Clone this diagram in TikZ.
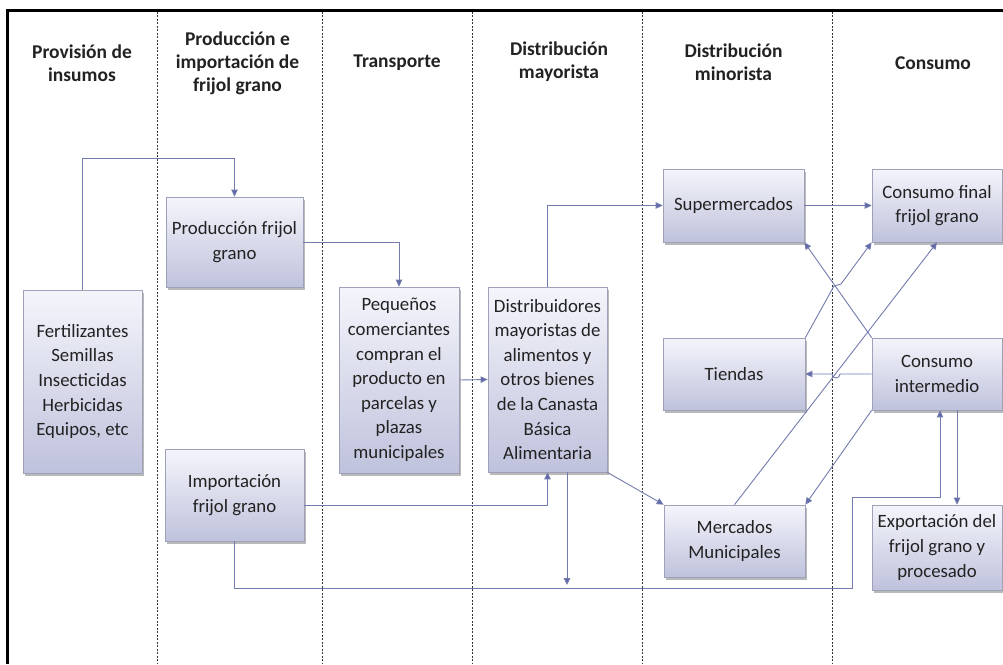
\documentclass[tikz,border=0pt]{standalone}
\usepackage{fontspec}
\setmainfont{Carlito}
\usetikzlibrary{arrows.meta,shadows,calc}
\definecolor{boxtop}{HTML}{F4F5FB}
\definecolor{boxbot}{HTML}{BFC2DC}
\definecolor{boxline}{HTML}{9EA1B8}
\definecolor{conncol}{HTML}{737BAE}
\definecolor{tipcol}{HTML}{5F68A8}
\definecolor{divcol}{HTML}{333333}
\definecolor{txtcol}{HTML}{222222}
\begin{document}
\begin{tikzpicture}[x=1pt,y=-1pt,
  box/.style={draw=boxline, line width=0.7pt, top color=boxtop, bottom color=boxbot,
    align=center, inner sep=0pt, text=txtcol,
    font=\fontsize{18.8}{24.6}\selectfont,
    drop shadow={shadow xshift=2.2pt, shadow yshift=-2.7pt, fill=black!50, opacity=0.55}},
  head/.style={align=center, text=txtcol, font=\fontsize{19.5}{23}\selectfont\bfseries},
  conn/.style={draw=conncol, line width=0.9pt, -{Triangle[length=7pt,width=6.5pt,fill=tipcol]}},
  divider/.style={draw=divcol, line width=1pt, dash pattern=on 2.2pt off 1.3pt},
]
\useasboundingbox (0,0) rectangle (1003,664);
\fill[white] (0,0) rectangle (1003,664);

% frame and dividers
\draw[line width=3pt, black] (7,664) -- (7,10) -- (1003,10);
\foreach \xx in {157,322,472,642,832}
  \draw[divider] (\xx,11.5) -- (\xx,664);

% headers
\node[head] (h1) at (82,63.5) {Provisión de\\insumos};
\node[head] (h2) at (237.5,63) {Producción e\\importación de\\frijol grano};
\node[head] (h3) at (397,63) {Transporte};
\node[head] (h4) at (559,62) {Distribución\\mayorista};
\node[head] (h5) at (733.5,62) {Distribución\\minorista};
\node[head] (h6) at (933,63) {Consumo};

% boxes
\node[box, minimum width=119pt, minimum height=183pt] (fert) at (82.5,381.5)
  {Fertilizantes\\Semillas\\Insecticidas\\Herbicidas\\Equipos, etc};
\node[box, minimum width=137pt, minimum height=90pt] (prod) at (234.5,242)
  {Producción frijol\\grano};
\node[box, minimum width=139pt, minimum height=92pt] (imp) at (234.5,495)
  {Importación\\frijol grano};
\node[box, minimum width=120pt, minimum height=186pt] (peq) at (399,380)
  {Pequeños\\comerciantes\\compran el\\producto en\\parcelas y\\plazas\\municipales};
\node[box, minimum width=119pt, minimum height=185pt] (dist) at (547.5,379.5)
  {Distribuidores\\mayoristas de\\alimentos y\\otros bienes\\de la Canasta\\Básica\\Alimentaria};
\node[box, minimum width=141pt, minimum height=73pt] (super) at (733.5,205.5)
  {Supermercados};
\node[box, minimum width=142pt, minimum height=72pt] (tiendas) at (734,374)
  {Tiendas};
\node[box, minimum width=141pt, minimum height=72pt] (merc) at (734.5,541)
  {Mercados\\Municipales};
\node[box, minimum width=130pt, minimum height=73pt] (final) at (937,205.5)
  {Consumo final\\frijol grano};
\node[box, minimum width=130pt, minimum height=72pt] (inter) at (937,374)
  {Consumo\\intermedio};
\node[box, minimum width=130pt, minimum height=85pt] (export) at (937,547.5)
  {Exportación del\\frijol grano y\\procesado};

% helper coordinates
\coordinate (h158) at (0,158);
\coordinate (h505) at (0,505);
\coordinate (h585) at (0,585);
\coordinate (h588) at (0,588);
\coordinate (h497) at (0,497);
\coordinate (x567) at (567,0);
\coordinate (x852) at (852,0);
\coordinate (x940) at (940,0);
\coordinate (x957) at (957,0);

% connectors
\draw[conn] (fert.north) -- (fert.north |- h158) -| (prod.north);
\draw[conn] (prod.east) -| (peq.north);
\draw[conn] (peq.east) -- (dist.west);
\draw[conn] (dist.north) |- (super.west);
\draw[conn] (super.east) -- (final.west);
\draw[conn] (dist.south east) -- (merc.north west);
\draw[conn] (merc.north) -- (final.south);
\draw[conn] (inter.south west) -- (merc.north east);
\draw[conn] (tiendas.north east) -- (834,286) -- (841,284) -- (final.south west);
\draw[conn] (inter.north west) -- (super.south east);
\draw[conn] (inter.west) -- (840,374) arc[start angle=0, end angle=180, radius=4] -- (tiendas.east);
\draw[conn] (inter.south -| x957) -- (export.north -| x957);
\draw[conn] (imp.east |- h505) -| (dist.south);
\draw[conn] (imp.south) |- (x852 |- h588) |- (x940 |- h497) -- (inter.south -| x940);
\draw[conn] (dist.south -| x567) -- (x567 |- h585);
\end{tikzpicture}
\end{document}
